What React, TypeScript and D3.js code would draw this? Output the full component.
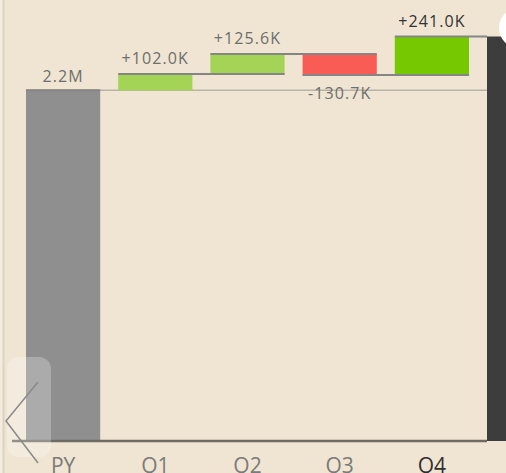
import React from "react";
import * as d3 from "d3";

const categories = ["PY", "Q1", "Q2", "Q3", "Q4", "CY"];
const deltas = [2200, 102.0, 125.6, -130.7, 241.0];
const valueLabels = ["2.2M", "+102.0K", "+125.6K", "-130.7K", "+241.0K"];
const barColors = ["#8f8f8f", "#a4d456", "#a4d456", "#f85c55", "#76c800", "#3d3d3d"];

const W = 506;
const H = 473;

export default function App() {
  const starts: number[] = [];
  const ends: number[] = [];
  let acc = 0;
  deltas.forEach((d, i) => {
    const s = i === 0 ? 0 : acc;
    acc = s + d;
    starts.push(s);
    ends.push(acc);
  });
  const total = acc;

  const step = 92.2;
  const x = d3
    .scaleBand<string>()
    .domain(categories)
    .range([26, 26 + categories.length * step - 18])
    .paddingInner(18 / step)
    .paddingOuter(0);
  const bw = x.bandwidth();
  const y = d3.scaleLinear().domain([0, total]).range([441, 36.5]);

  const font = "'Open Sans', 'Segoe UI', sans-serif";

  return (
    <div style={{ position: "fixed", left: 0, top: 0, width: W, height: H }}>
      <svg width={W} height={H} style={{ display: "block" }}>
        <rect x={0} y={0} width={W} height={H} fill="#efe5d2" />
        <rect x={0} y={0} width={2.5} height={H} fill="#f4ecdf" />
        <rect x={2.5} y={0} width={2} height={H} fill="#dcd3c3" />

        {/* PY reference line */}
        <line x1={x("PY")!} x2={x("CY")!} y1={y(ends[0])} y2={y(ends[0])} stroke="#b9b3a7" strokeWidth={1.5} />

        {/* delta bars */}
        {deltas.map((d, i) => {
          const cat = categories[i];
          const x0 = x(cat)!;
          const top = y(Math.max(starts[i], ends[i]));
          const bot = y(Math.min(starts[i], ends[i]));
          return <rect key={cat} x={x0} y={top} width={bw} height={bot - top} fill={barColors[i]} />;
        })}

        {/* total bar */}
        <rect x={x("CY")!} y={y(total)} width={bw} height={y(0) - y(total)} fill={barColors[5]} />

        {/* connector / end lines */}
        {deltas.map((d, i) => {
          const cat = categories[i];
          const next = categories[i + 1];
          const x1 = x(cat)!;
          const x2 = i === 0 ? x1 + bw : next === "CY" ? x(next)! : x(next)! + bw;
          return (
            <line key={"c" + cat} x1={x1} x2={x2} y1={y(ends[i])} y2={y(ends[i])} stroke="#858585" strokeWidth={2} />
          );
        })}

        {/* baseline */}
        <line x1={12} x2={x("CY")!} y1={y(0)} y2={y(0)} stroke="#6f6b62" strokeWidth={2.5} />

        {/* value labels */}
        {deltas.map((d, i) => {
          const cat = categories[i];
          const cx = x(cat)! + bw / 2;
          const below = d < 0;
          const ty = below
            ? y(Math.min(starts[i], ends[i])) + 24
            : y(Math.max(starts[i], ends[i])) - (i === 0 ? 8 : 10);
          return (
            <text
              key={"v" + cat}
              x={cx}
              y={ty}
              textAnchor="middle"
              fontFamily={font}
              fontSize={16}
              letterSpacing={1.1}
              fill={cat === "Q4" ? "#333333" : "#6e6e6e"}
            >
              {valueLabels[i]}
            </text>
          );
        })}

        {/* category labels */}
        {categories.slice(0, 5).map((cat) => (
          <text
            key={"l" + cat}
            x={x(cat)! + bw / 2}
            y={473}
            textAnchor="middle"
            fontFamily={font}
            fontSize={21}
            fill={cat === "Q4" ? "#2f2f2f" : "#7a7a7a"}
          >
            {cat}
          </text>
        ))}

        {/* right white nav shape */}
        <circle cx={519} cy={28} r={20} fill="#ffffff" />

        {/* left nav button */}
        <rect x={7} y={357} width={44} height={100} rx={12} fill="#ffffff" fillOpacity={0.25} />
        <polyline points="38,382 6,421 38,463" fill="none" stroke="#8a8a8a" strokeWidth={1.5} />
      </svg>
    </div>
  );
}
